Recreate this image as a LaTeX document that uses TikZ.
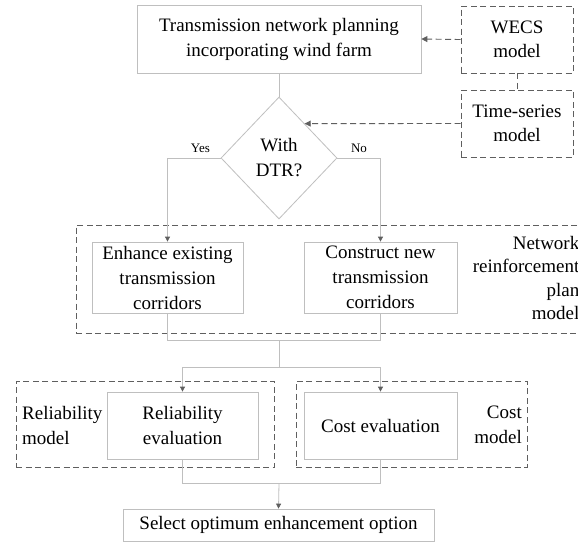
\documentclass[tikz,border=0pt]{standalone}
\usepackage{fontspec}
\setmainfont{Liberation Serif}
\usetikzlibrary{shapes.geometric,arrows.meta,calc}
\definecolor{boxgray}{HTML}{BFBFBF}
\definecolor{darkg}{HTML}{5F5F5F}
\tikzset{
  sbox/.style={draw=boxgray,line width=0.8pt,inner sep=0pt,align=center,font=\fontsize{19}{25}\selectfont},
  dbox/.style={draw=darkg,line width=0.9pt,dash pattern=on 6pt off 3.5pt,inner sep=0pt,align=center,font=\fontsize{19}{24}\selectfont},
  lab/.style={inner sep=0pt,font=\fontsize{19}{25}\selectfont},
  small/.style={inner sep=0pt,font=\fontsize{13}{15}\selectfont},
  sline/.style={draw=boxgray,line width=0.8pt},
  sarr/.style={draw=boxgray,line width=0.8pt,-{Triangle[length=5pt,width=5pt,color=darkg]}},
  darr/.style={draw=darkg,line width=0.9pt,dash pattern=on 6pt off 3.5pt,-{Triangle[length=6pt,width=6pt]}},
  dline/.style={draw=darkg,line width=0.9pt,dash pattern=on 6pt off 3.5pt},
}
\begin{document}
\begin{tikzpicture}[x=1pt,y=-1pt]
\path[use as bounding box,clip] (0,0) rectangle (578,542);
\fill[white] (0,0) rectangle (578,542);
% main nodes
\node[sbox,minimum width=284pt,minimum height=68pt] (top) at (279,39) {Transmission network planning\\incorporating wind farm};
\node[dbox,minimum width=112pt,minimum height=67pt] (wecs) at (517,39.5) {WECS\\model};
\node[dbox,minimum width=112pt,minimum height=67pt] (ts) at (517,123.5) {Time-series\\model};
\node[sbox,shape=diamond,minimum width=116pt,minimum height=122pt] (dia) at (279,158) {With\\DTR?};
% network reinforcement group
\node[dbox,minimum width=510pt,minimum height=108pt] (netg) at (331,279) {};
\node[sbox,minimum width=151pt,minimum height=71pt] (enh) at (167.5,277.5) {Enhance existing\\transmission\\corridors};
\node[sbox,minimum width=153pt,minimum height=71pt] (con) at (380.5,277.5) {Construct new\\transmission\\corridors};
\node[lab,align=right,anchor=east,font=\fontsize{19}{23.5}\selectfont] (netl) at (579.5,278) {Network\\reinforcement\\plan\\model};
% evaluation groups
\node[dbox,minimum width=258pt,minimum height=86pt] (relg) at (145,424) {};
\node[dbox,minimum width=231pt,minimum height=86pt] (costg) at (411.5,424) {};
\node[sbox,minimum width=151pt,minimum height=67pt] (rel) at (182.5,425.5) {Reliability\\evaluation};
\node[sbox,minimum width=153pt,minimum height=67pt] (cost) at (380.5,425.5) {Cost evaluation};
\node[lab,align=left,anchor=west] (rell) at (22,425.5) {Reliability\\model};
\node[lab,align=right,anchor=east] (costl) at (522,424.5) {Cost\\model};
\node[sbox,minimum width=311pt,minimum height=32pt] (sel) at (278.5,525) {Select optimum enhancement option};
% coordinates
\coordinate (m1) at (279,340);
\coordinate (m2) at (279,367);
\coordinate (m3) at (279,483);
% connectors
\draw[sline] (top.south) -- (dia.north);
\draw[darr] (wecs.west) -- (top.east);
\draw[dline] (wecs.south) -- (ts.north);
\draw[darr] (ts.west) -- ($(dia.north)!0.44!(dia.east)$);
\draw[sarr] (dia.west) -| node[small,pos=0.19,above=5pt] (yes) {Yes} (enh.north);
\draw[sarr] (dia.east) -| node[small,pos=0.25,above=5pt] (no) {No} (con.north);
\draw[sline] (enh.south) -- (enh.south |- m1) -| (con.south);
\draw[sline] (m1) -- (m2);
\draw[sarr] (m2) -| (rel.north);
\draw[sarr] (m2) -| (cost.north);
\draw[sline] (rel.south) -- (rel.south |- m3) -| (cost.south);
\draw[sarr] (m3) -- (sel.north);
\end{tikzpicture}
\end{document}
